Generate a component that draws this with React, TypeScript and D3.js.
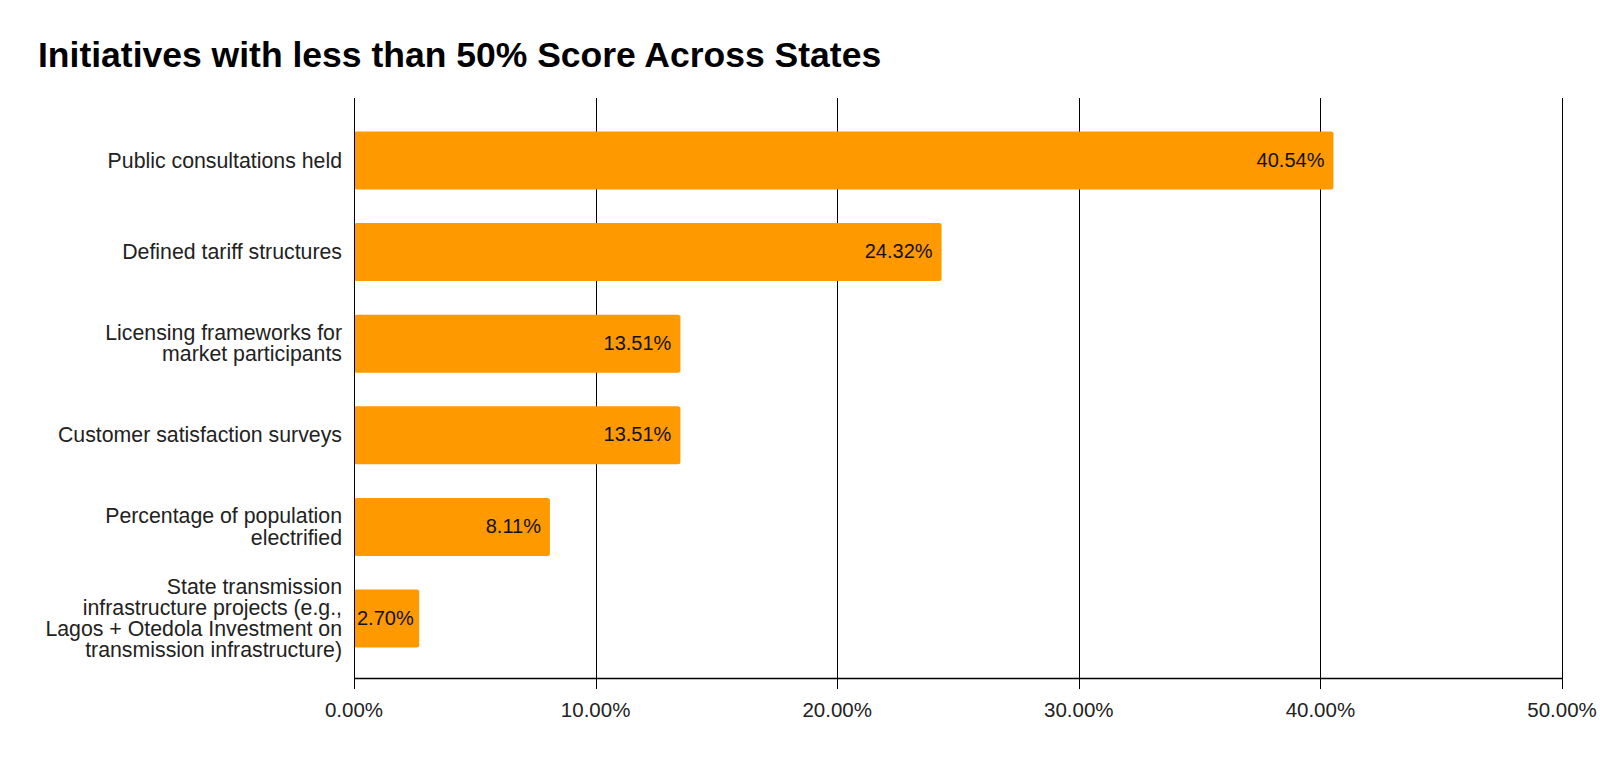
import React, { useEffect, useRef } from "react";
import * as d3 from "d3";

const title = "Initiatives with less than 50% Score Across States";
const categories = [
  "Public consultations held",
  "Defined tariff structures",
  "Licensing frameworks for\nmarket participants",
  "Customer satisfaction surveys",
  "Percentage of population\nelectrified",
  "State transmission\ninfrastructure projects (e.g.,\nLagos + Otedola Investment on\ntransmission infrastructure)",
];
const values = [0.4054, 0.2432, 0.1351, 0.1351, 0.0811, 0.027];
const xTicks = [0, 0.1, 0.2, 0.3, 0.4, 0.5];

const W = 1600;
const H = 760;
const FONT = "'Liberation Sans', Arial, Helvetica, sans-serif";

export default function App() {
  const ref = useRef<SVGSVGElement | null>(null);

  useEffect(() => {
    const svg = d3.select(ref.current);
    svg.selectAll("*").remove();

    const x = d3.scaleLinear().domain([0, 0.5]).range([354, 1562]);
    const y = d3
      .scaleBand<string>()
      .domain(categories)
      .range([114.7, 664.3])
      .paddingInner(0.367)
      .paddingOuter(0.1835);

    const gridTop = 98;
    const axisY = 678.5;
    const tickBottom = 689;
    const fmt = d3.format(".2%");

    svg
      .append("text")
      .attr("x", 38)
      .attr("y", 66.5)
      .attr("font-family", FONT)
      .attr("font-size", 35.5)
      .attr("font-weight", "bold")
      .attr("fill", "#000")
      .text(title);

    // gridlines
    svg
      .append("g")
      .selectAll("line")
      .data(xTicks)
      .join("line")
      .attr("x1", (d) => Math.round(x(d)) + 0.5)
      .attr("x2", (d) => Math.round(x(d)) + 0.5)
      .attr("y1", gridTop)
      .attr("y2", tickBottom)
      .attr("stroke", "#000")
      .attr("stroke-width", 1);

    // bars
    svg
      .append("g")
      .selectAll("rect")
      .data(values)
      .join("rect")
      .attr("x", x(0))
      .attr("y", (_, i) => y(categories[i])!)
      .attr("width", (d) => x(d) - x(0))
      .attr("height", y.bandwidth())
      .attr("rx", 2.5)
      .attr("fill", "#FF9900");

    // left axis line over bars
    svg
      .append("line")
      .attr("x1", Math.round(x(0)) + 0.5)
      .attr("x2", Math.round(x(0)) + 0.5)
      .attr("y1", gridTop)
      .attr("y2", tickBottom)
      .attr("stroke", "#000")
      .attr("stroke-width", 1);

    // bottom axis line
    svg
      .append("line")
      .attr("x1", x(0))
      .attr("x2", x(0.5) + 0.5)
      .attr("y1", axisY)
      .attr("y2", axisY)
      .attr("stroke", "#000")
      .attr("stroke-width", 1.5);

    // tick labels
    svg
      .append("g")
      .selectAll("text")
      .data(xTicks)
      .join("text")
      .attr("x", (d) => x(d))
      .attr("y", 716.7)
      .attr("text-anchor", "middle")
      .attr("font-family", FONT)
      .attr("font-size", 20.5)
      .attr("fill", "#222")
      .text((d) => fmt(d));

    // value labels
    const vl = svg
      .append("g")
      .selectAll("text")
      .data(values)
      .join("text")
      .attr("y", (_, i) => y(categories[i])! + y.bandwidth() / 2 + 6)
      .attr("font-family", FONT)
      .attr("font-size", 20)
      .attr("fill", "#111")
      .text((d) => fmt(d));
    vl.each(function (d) {
      const node = this as SVGTextElement;
      const w = node.getComputedTextLength();
      const xs = Math.max(x(d) - 9 - w, x(0) + 3);
      d3.select(node).attr("x", xs);
    });

    // category labels
    const cl = svg
      .append("g")
      .selectAll("text")
      .data(categories)
      .join("text")
      .attr("font-family", FONT)
      .attr("font-size", 21.3)
      .attr("fill", "#222")
      .attr("text-anchor", "end");
    const lh = 21.3;
    cl.each(function (d) {
      const lines = d.split("\n");
      const cy = y(d)! + y.bandwidth() / 2;
      const first = cy - ((lines.length - 1) * lh) / 2 + 7;
      const t = d3.select(this);
      lines.forEach((ln, k) => {
        t.append("tspan")
          .attr("x", 342)
          .attr("y", first + k * lh)
          .text(ln);
      });
    });
  }, []);

  return (
    <svg
      ref={ref}
      width={W}
      height={H}
      style={{ position: "absolute", left: 0, top: 0, background: "#fff" }}
    />
  );
}
